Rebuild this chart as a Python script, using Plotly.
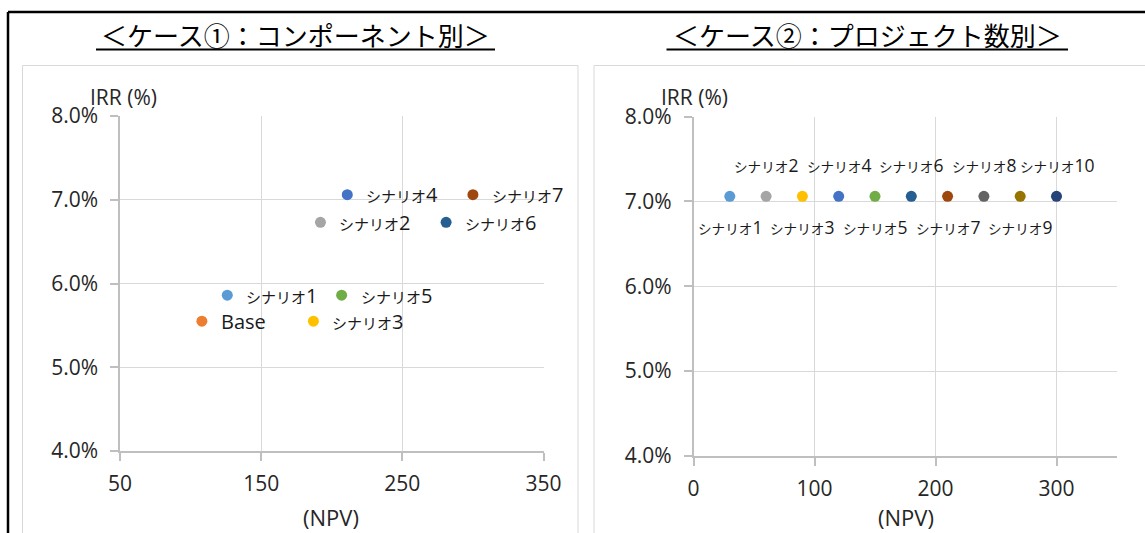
import plotly.graph_objects as go

W, H = 1145, 533

# ---------------- data ----------------
titles = ["＜ケース①：コンポーネント別＞", "＜ケース②：プロジェクト数別＞"]
y_title = "IRR (%)"
x_title = "(NPV)"

c1_labels = ["Base", "シナリオ1", "シナリオ2", "シナリオ3", "シナリオ4", "シナリオ5", "シナリオ6", "シナリオ7"]
c1_npv = [108, 126, 192, 187, 211, 207, 281, 300]
c1_irr = [0.0555, 0.0586, 0.0673, 0.0555, 0.0706, 0.0586, 0.0673, 0.0706]
c1_colors = ["#ED7D31", "#5B9BD5", "#A5A5A5", "#FFC000", "#4472C4", "#70AD47", "#255E91", "#9E480E"]

c2_labels = ["シナリオ1", "シナリオ2", "シナリオ3", "シナリオ4", "シナリオ5",
             "シナリオ6", "シナリオ7", "シナリオ8", "シナリオ9", "シナリオ10"]
c2_npv = [30, 60, 90, 120, 150, 180, 210, 240, 270, 300]
c2_irr = [0.0706, 0.0706, 0.0706, 0.0706, 0.0706, 0.0706, 0.0706, 0.0706, 0.0706, 0.0706]
c2_colors = ["#5B9BD5", "#A5A5A5", "#FFC000", "#4472C4", "#70AD47",
             "#255E91", "#9E480E", "#636363", "#997300", "#264478"]

# ---------------- helpers ----------------
def px(x):
    return x / W

def py(y):
    return 1 - y / H

LATIN = "Open Sans, Noto Sans CJK JP"
TXT = "#262626"
LBL = "#1a1a1a"

def fmt_label(lbl, kata, num):
    pre = "シナリオ"
    if lbl.startswith(pre):
        return (f"<span style='font-size:{kata}px'>{pre}</span>"
                f"<span style='font-size:{num}px'>{lbl[len(pre):]}</span>")
    return f"<span style='font-size:{num}px'>{lbl}</span>"

fig = go.Figure()

fig.add_trace(go.Scatter(
    x=c1_npv, y=c1_irr, mode="markers",
    marker=dict(size=11, color=c1_colors, line=dict(width=0)),
    xaxis="x", yaxis="y", showlegend=False, hoverinfo="skip"))

fig.add_trace(go.Scatter(
    x=c2_npv, y=c2_irr, mode="markers",
    marker=dict(size=11, color=c2_colors, line=dict(width=0)),
    xaxis="x2", yaxis="y2", showlegend=False, hoverinfo="skip"))

axis_common = dict(
    showgrid=True, gridcolor="#d9d9d9", gridwidth=1,
    showline=True, linecolor="#bfbfbf", linewidth=1.5,
    ticks="outside", ticklen=8, tickcolor="#bfbfbf", tickwidth=1.5,
    zeroline=False, mirror=False, automargin=False,
    tickfont=dict(family=LATIN, size=21, color=TXT),
    fixedrange=True,
)

fig.update_layout(
    width=W, height=H,
    margin=dict(l=0, r=0, t=0, b=0, autoexpand=False),
    paper_bgcolor="white", plot_bgcolor="white",
    showlegend=False,
    xaxis=dict(domain=[px(120), px(543.5)], range=[50, 350], tick0=50, dtick=100,
               anchor="y", ticklabelstandoff=5, **axis_common),
    yaxis=dict(domain=[py(451), py(116)], range=[0.04, 0.08], dtick=0.01,
               tickformat=".1%", anchor="x", ticklabelstandoff=8, **axis_common),
    xaxis2=dict(domain=[px(693.5), px(1117)], range=[0, 350], tick0=0, dtick=100,
                anchor="y2", ticklabelstandoff=5, **axis_common),
    yaxis2=dict(domain=[py(456), py(116.5)], range=[0.04, 0.08], dtick=0.01,
                tickformat=".1%", anchor="x2", ticklabelstandoff=8, **axis_common),
)

shapes = []
# outer black frame (top and left visible)
shapes.append(dict(type="line", xref="paper", yref="paper",
                   x0=px(8), y0=py(12), x1=px(1160), y1=py(12),
                   line=dict(color="black", width=2.5)))
shapes.append(dict(type="line", xref="paper", yref="paper",
                   x0=px(8), y0=py(12), x1=px(8), y1=py(560),
                   line=dict(color="black", width=2.5)))
# chart area boxes
shapes.append(dict(type="rect", xref="paper", yref="paper",
                   x0=px(22.5), y0=py(560), x1=px(578), y1=py(65.5),
                   line=dict(color="#d9d9d9", width=1)))
shapes.append(dict(type="rect", xref="paper", yref="paper",
                   x0=px(594), y0=py(560), x1=px(1170), y1=py(65.5),
                   line=dict(color="#d9d9d9", width=1)))
# title underlines
shapes.append(dict(type="line", xref="paper", yref="paper",
                   x0=px(96), y0=py(49.5), x1=px(495), y1=py(49.5),
                   line=dict(color="black", width=2)))
shapes.append(dict(type="line", xref="paper", yref="paper",
                   x0=px(666.5), y0=py(49.5), x1=px(1068), y1=py(49.5),
                   line=dict(color="black", width=2)))
fig.update_layout(shapes=shapes)

ann = []
# titles
for t, cx in zip(titles, [295.5, 867]):
    ann.append(dict(text=t, xref="paper", yref="paper", x=px(cx), y=py(35),
                    xanchor="center", yanchor="middle", showarrow=False,
                    font=dict(family="Noto Sans CJK JP", size=26, color="black")))
# axis titles
for cx in [123, 694]:
    ann.append(dict(text=y_title, xref="paper", yref="paper", x=px(cx), y=py(97),
                    xanchor="center", yanchor="middle", showarrow=False,
                    font=dict(family=LATIN, size=21, color=TXT)))
for cx in [331, 906]:
    ann.append(dict(text=x_title, xref="paper", yref="paper", x=px(cx), y=py(517),
                    xanchor="center", yanchor="middle", showarrow=False,
                    font=dict(family=LATIN, size=22, color=TXT)))

# case 1 data labels (right of markers)
for lbl, xv, yv in zip(c1_labels, c1_npv, c1_irr):
    ann.append(dict(text=fmt_label(lbl, 15, 20), xref="x", yref="y", x=xv, y=yv,
                    xanchor="left", yanchor="middle", xshift=17, showarrow=False,
                    font=dict(family=LATIN, size=16, color=LBL)))

# case 2 data labels (alternating below / above)
for i, (lbl, xv, yv) in enumerate(zip(c2_labels, c2_npv, c2_irr)):
    shift = -31 if i % 2 == 0 else 31
    ann.append(dict(text=fmt_label(lbl, 13.6, 17.5), xref="x2", yref="y2", x=xv, y=yv,
                    xanchor="center", yanchor="middle", yshift=shift, showarrow=False,
                    font=dict(family=LATIN, size=15, color=LBL)))

fig.update_layout(annotations=ann)

fig.write_html("out.html")
